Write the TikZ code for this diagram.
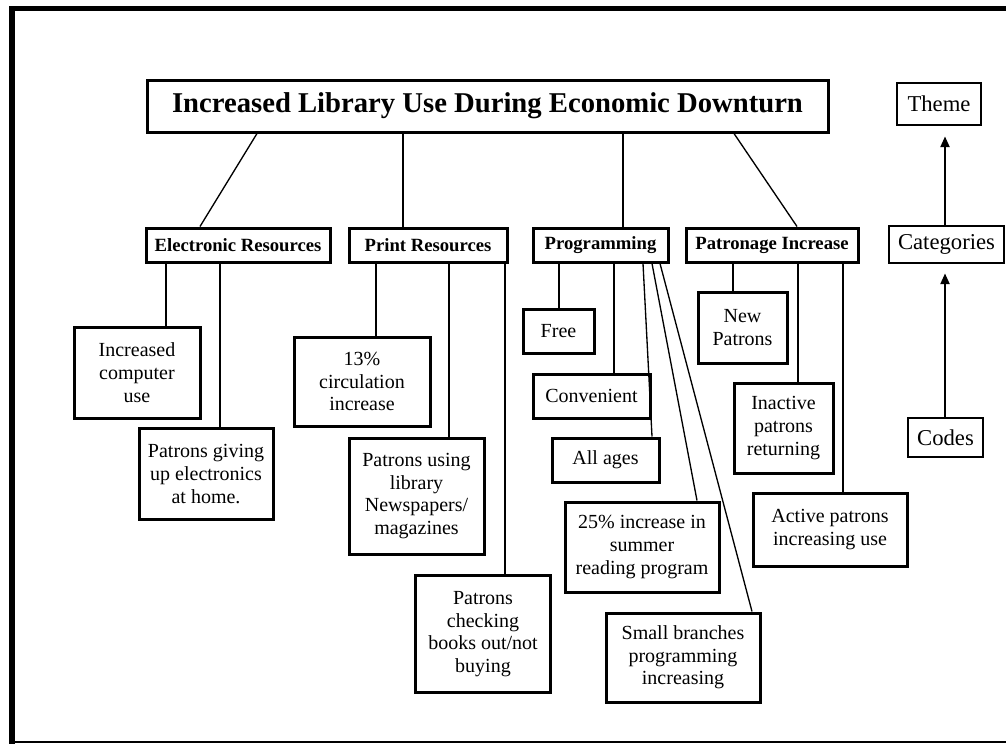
\documentclass[tikz,border=0pt]{standalone}
\usepackage{fontspec}
\setmainfont{Liberation Serif}
\usetikzlibrary{arrows.meta,calc}
\begin{document}
\begin{tikzpicture}[x=0.75pt,y=-0.75pt,
  box/.style={draw, line width=2.25pt, align=center, inner sep=0pt},
  code/.style={box, font=\fontsize{15}{17}\selectfont},
  catbox/.style={box, font=\bfseries\fontsize{14}{16}\selectfont},
  legend/.style={draw, line width=0.8pt, inner sep=0pt, font=\fontsize{17}{19}\selectfont},
  link/.style={line width=1pt},
  uparrow/.style={line width=1pt, -{Triangle[length=8pt,width=7pt]}}]
\useasboundingbox (0,0) rectangle (1006,744);
\fill[white] (0,0) rectangle (1006,744);
% frame
\fill (9,6) rectangle (1006,11);
\fill (9,6) rectangle (15,744);
\fill (9,741) rectangle (1006,743);

% theme
\node[box, font=\bfseries\fontsize{21.5}{24}\selectfont, minimum width=510.75pt, minimum height=39pt] (title) at (487.5,106) {Increased Library Use During Economic Downturn};

% categories
\node[catbox, minimum width=138pt, minimum height=25.5pt] (er) at (238,245) {Electronic Resources};
\node[catbox, minimum width=118.5pt, minimum height=25.5pt] (pr) at (428,245) {Print Resources};
\node[catbox, minimum width=101.25pt, minimum height=25.5pt] (pg) at (600.5,245) {Programming};
\node[catbox, minimum width=129pt, minimum height=25.5pt] (pi) at (772,245) {Patronage Increase};

% codes: electronic
\node[code, minimum width=94.5pt, minimum height=68.25pt] (icu) at (137,372.5) {Increased\\computer\\use};
\node[code, minimum width=100.5pt, minimum height=68.25pt] (pgu) at (206,474) {Patrons giving\\up electronics\\at home.};
% codes: print
\node[code, minimum width=102pt, minimum height=66.75pt] (circ) at (362,381.5) {13\%\\circulation\\increase};
\node[code, minimum width=101.25pt, minimum height=87pt] (pul) at (416.5,496) {Patrons using\\library\\Newspapers/\\magazines};
\node[code, minimum width=101.25pt, minimum height=87.75pt] (pcb) at (483,634) {Patrons\\checking\\books out/not\\buying};
% codes: programming
\node[code, minimum width=53.25pt, minimum height=33pt] (free) at (558.5,331) {Free};
\node[code, minimum width=87.75pt, minimum height=33pt] (conv) at (591.5,396) {Convenient};
\node[code, minimum width=80.25pt, minimum height=33pt] (ages) at (605.5,460) {All ages};
\node[code, minimum width=115.5pt, minimum height=67.5pt] (summer) at (642,547) {25\% increase in\\summer\\reading program};
\node[code, minimum width=115.5pt, minimum height=66.75pt] (small) at (683,657.5) {Small branches\\programming\\increasing};
% codes: patronage
\node[code, minimum width=66.75pt, minimum height=53.25pt] (newp) at (742.5,327.5) {New\\Patrons};
\node[code, minimum width=74.25pt, minimum height=67.5pt] (inact) at (783.5,428) {Inactive\\patrons\\returning};
\node[code, minimum width=115.5pt, minimum height=54.75pt] (active) at (830,529.5) {Active patrons\\increasing use};

% legend
\node[legend, minimum width=63pt, minimum height=31.5pt] (theme) at (939,104) {Theme};
\node[legend, minimum width=86.25pt, minimum height=27.75pt] (categ) at (946.5,244.5) {Categories};
\node[legend, minimum width=56.25pt, minimum height=29.25pt] (codes) at (945.5,437.5) {Codes};

% title to categories
\draw[link] (title.south -| 257,0) -- (er.north -| 200,0);
\draw[link] (title.south -| 403,0) -- (pr.north -| 403,0);
\draw[link] (title.south -| 623,0) -- (pg.north -| 623,0);
\draw[link] (title.south -| 734,0) -- (pi.north -| 797,0);

% categories to codes
\draw[link] (er.south -| 166,0) -- (icu.north -| 166,0);
\draw[link] (er.south -| 220,0) -- (pgu.north -| 220,0);
\draw[link] (pr.south -| 376,0) -- (circ.north -| 376,0);
\draw[link] (pr.south -| 449,0) -- (pul.north -| 449,0);
\draw[link] (pr.south -| 505,0) -- (pcb.north -| 505,0);
\draw[link] (pg.south -| 559,0) -- (free.north -| 559,0);
\draw[link] (pg.south -| 614,0) -- (conv.north -| 614,0);
\draw[link] (pg.south -| 643,0) -- (ages.north -| 652,0);
\draw[link] (pg.south -| 652,0) -- (summer.north -| 697,0);
\draw[link] (pg.south -| 660,0) -- (small.north -| 752,0);
\draw[link] (pi.south -| 733,0) -- (newp.north -| 733,0);
\draw[link] (pi.south -| 798,0) -- (inact.north -| 798,0);
\draw[link] (pi.south -| 843,0) -- (active.north -| 843,0);

% legend arrows
\draw[uparrow] (categ.north -| 945,0) -- ($(theme.south -| 945,0)+(0,11)$);
\draw[uparrow] (codes.north -| 945,0) -- ($(categ.south -| 945,0)+(0,10)$);
\end{tikzpicture}
\end{document}
